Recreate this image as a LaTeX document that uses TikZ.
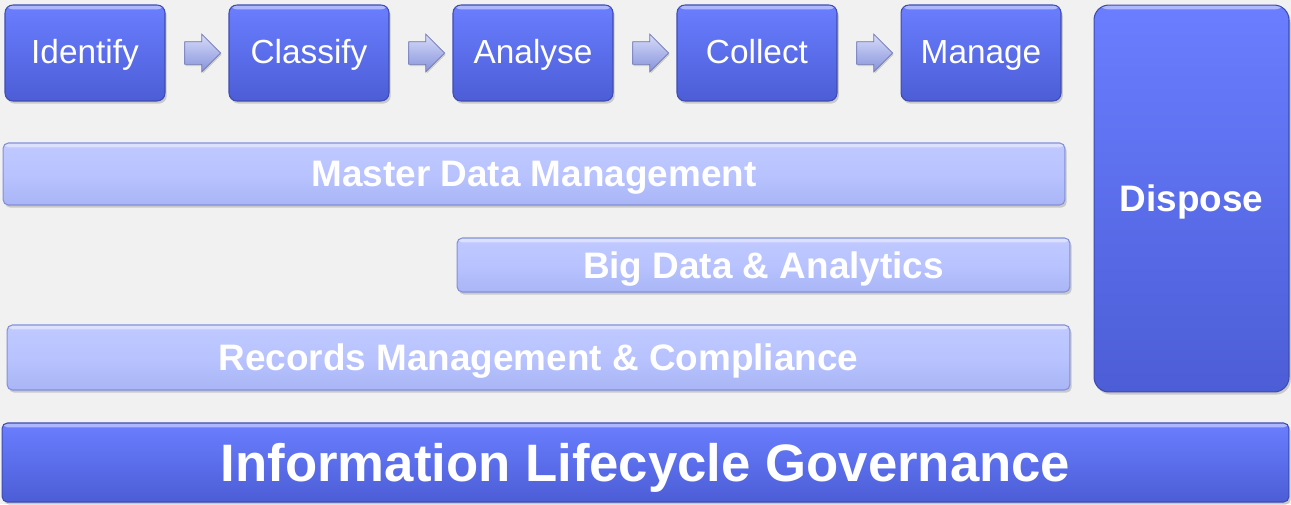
\documentclass[tikz,border=0pt]{standalone}
\usepackage{fontspec}
\setmainfont{Liberation Sans}
\usepackage{tikz}
\usetikzlibrary{shapes.arrows,shadows}

\definecolor{bggray}{HTML}{F1F1F1}
\definecolor{darktop}{HTML}{6A7EFF}
\definecolor{darkbot}{HTML}{4C5DD6}
\definecolor{darkline}{HTML}{3E4CB0}
\definecolor{lighttop}{HTML}{C0C9FF}
\definecolor{lightmid}{HTML}{B8C3FF}
\definecolor{lightbot}{HTML}{A9B5F5}
\definecolor{lightline}{HTML}{8390D8}
\definecolor{arrowtop}{HTML}{D6DBF8}
\definecolor{arrowbot}{HTML}{8793DC}

\tikzset{
  highlight/.style={path picture={
    \fill[white,opacity=0.45] (path picture bounding box.north west)
      rectangle ([yshift=-2.5pt]path picture bounding box.north east);}},
  darkbox/.style={rectangle, rounded corners=4.5pt, draw=darkline, line width=0.6pt,
    top color=darktop, bottom color=darkbot, text=white, inner sep=0pt, highlight,
    drop shadow={opacity=0.35, shadow xshift=1pt, shadow yshift=-1.5pt}},
  stepbox/.style={darkbox, minimum width=3.2cm, minimum height=1.92cm,
    text height=13.6pt, text depth=2.2pt, font=\fontsize{19}{22}\selectfont},
  boldtext/.style={text depth=0pt},
  lightbar/.style={rectangle, rounded corners=3pt, draw=lightline, line width=0.6pt,
    top color=lighttop, bottom color=lightbot, middle color=lightmid, text=white,
    inner sep=0pt, highlight, boldtext,
    font=\fontsize{21}{25}\selectfont\bfseries,
    drop shadow={opacity=0.35, shadow xshift=1pt, shadow yshift=-1.5pt}},
  flowarrow/.style={single arrow, draw=arrowbot!80!black, line width=0.4pt,
    top color=arrowtop, bottom color=arrowbot, minimum height=0.72cm,
    minimum width=0pt, inner xsep=0pt, inner ysep=0.22cm,
    single arrow head extend=0.15cm, single arrow head indent=0pt,
    drop shadow={opacity=0.3, shadow xshift=0.6pt, shadow yshift=-1pt}}
}

\begin{document}
\begin{tikzpicture}[x=0.02cm,y=-0.02cm]
  % background, fixes the size of the page
  \fill[bggray] (0,0) rectangle (1291,504);

  % the lifecycle steps
  \node[stepbox] (identify) at (85,53) {Identify};
  \node[stepbox] (classify) at (309,53) {Classify};
  \node[stepbox] (analyse) at (533,53) {Analyse};
  \node[stepbox] (collect) at (757,53) {Collect};
  \node[stepbox] (manage) at (981,53) {Manage};
  \path (identify) -- node[flowarrow] {} (classify);
  \path (classify) -- node[flowarrow] {} (analyse);
  \path (analyse) -- node[flowarrow] {} (collect);
  \path (collect) -- node[flowarrow] {} (manage);

  \node[darkbox, boldtext, rounded corners=8.5pt, minimum width=3.9cm, minimum height=7.74cm,
    font=\fontsize{21}{25}\selectfont\bfseries] (dispose) at (1191.5,198.5) {Dispose};

  % the bars
  \node[lightbar, minimum width=21.24cm, minimum height=1.24cm] (mdm) at (534,174)
    {Master Data Management};
  \node[lightbar, minimum width=12.26cm, minimum height=1.08cm] (bigdata) at (763.5,265)
    {Big Data \& Analytics};
  \node[lightbar, minimum width=21.26cm, minimum height=1.3cm] (records) at (538.5,357.5)
    {Records Management \& Compliance};

  \node[darkbox, boldtext, rounded corners=3pt, minimum width=25.74cm, minimum height=1.58cm,
    font=\fontsize{30}{36}\selectfont\bfseries] (ilg) at (645.5,462.5)
    {Information Lifecycle Governance};
\end{tikzpicture}
\end{document}
